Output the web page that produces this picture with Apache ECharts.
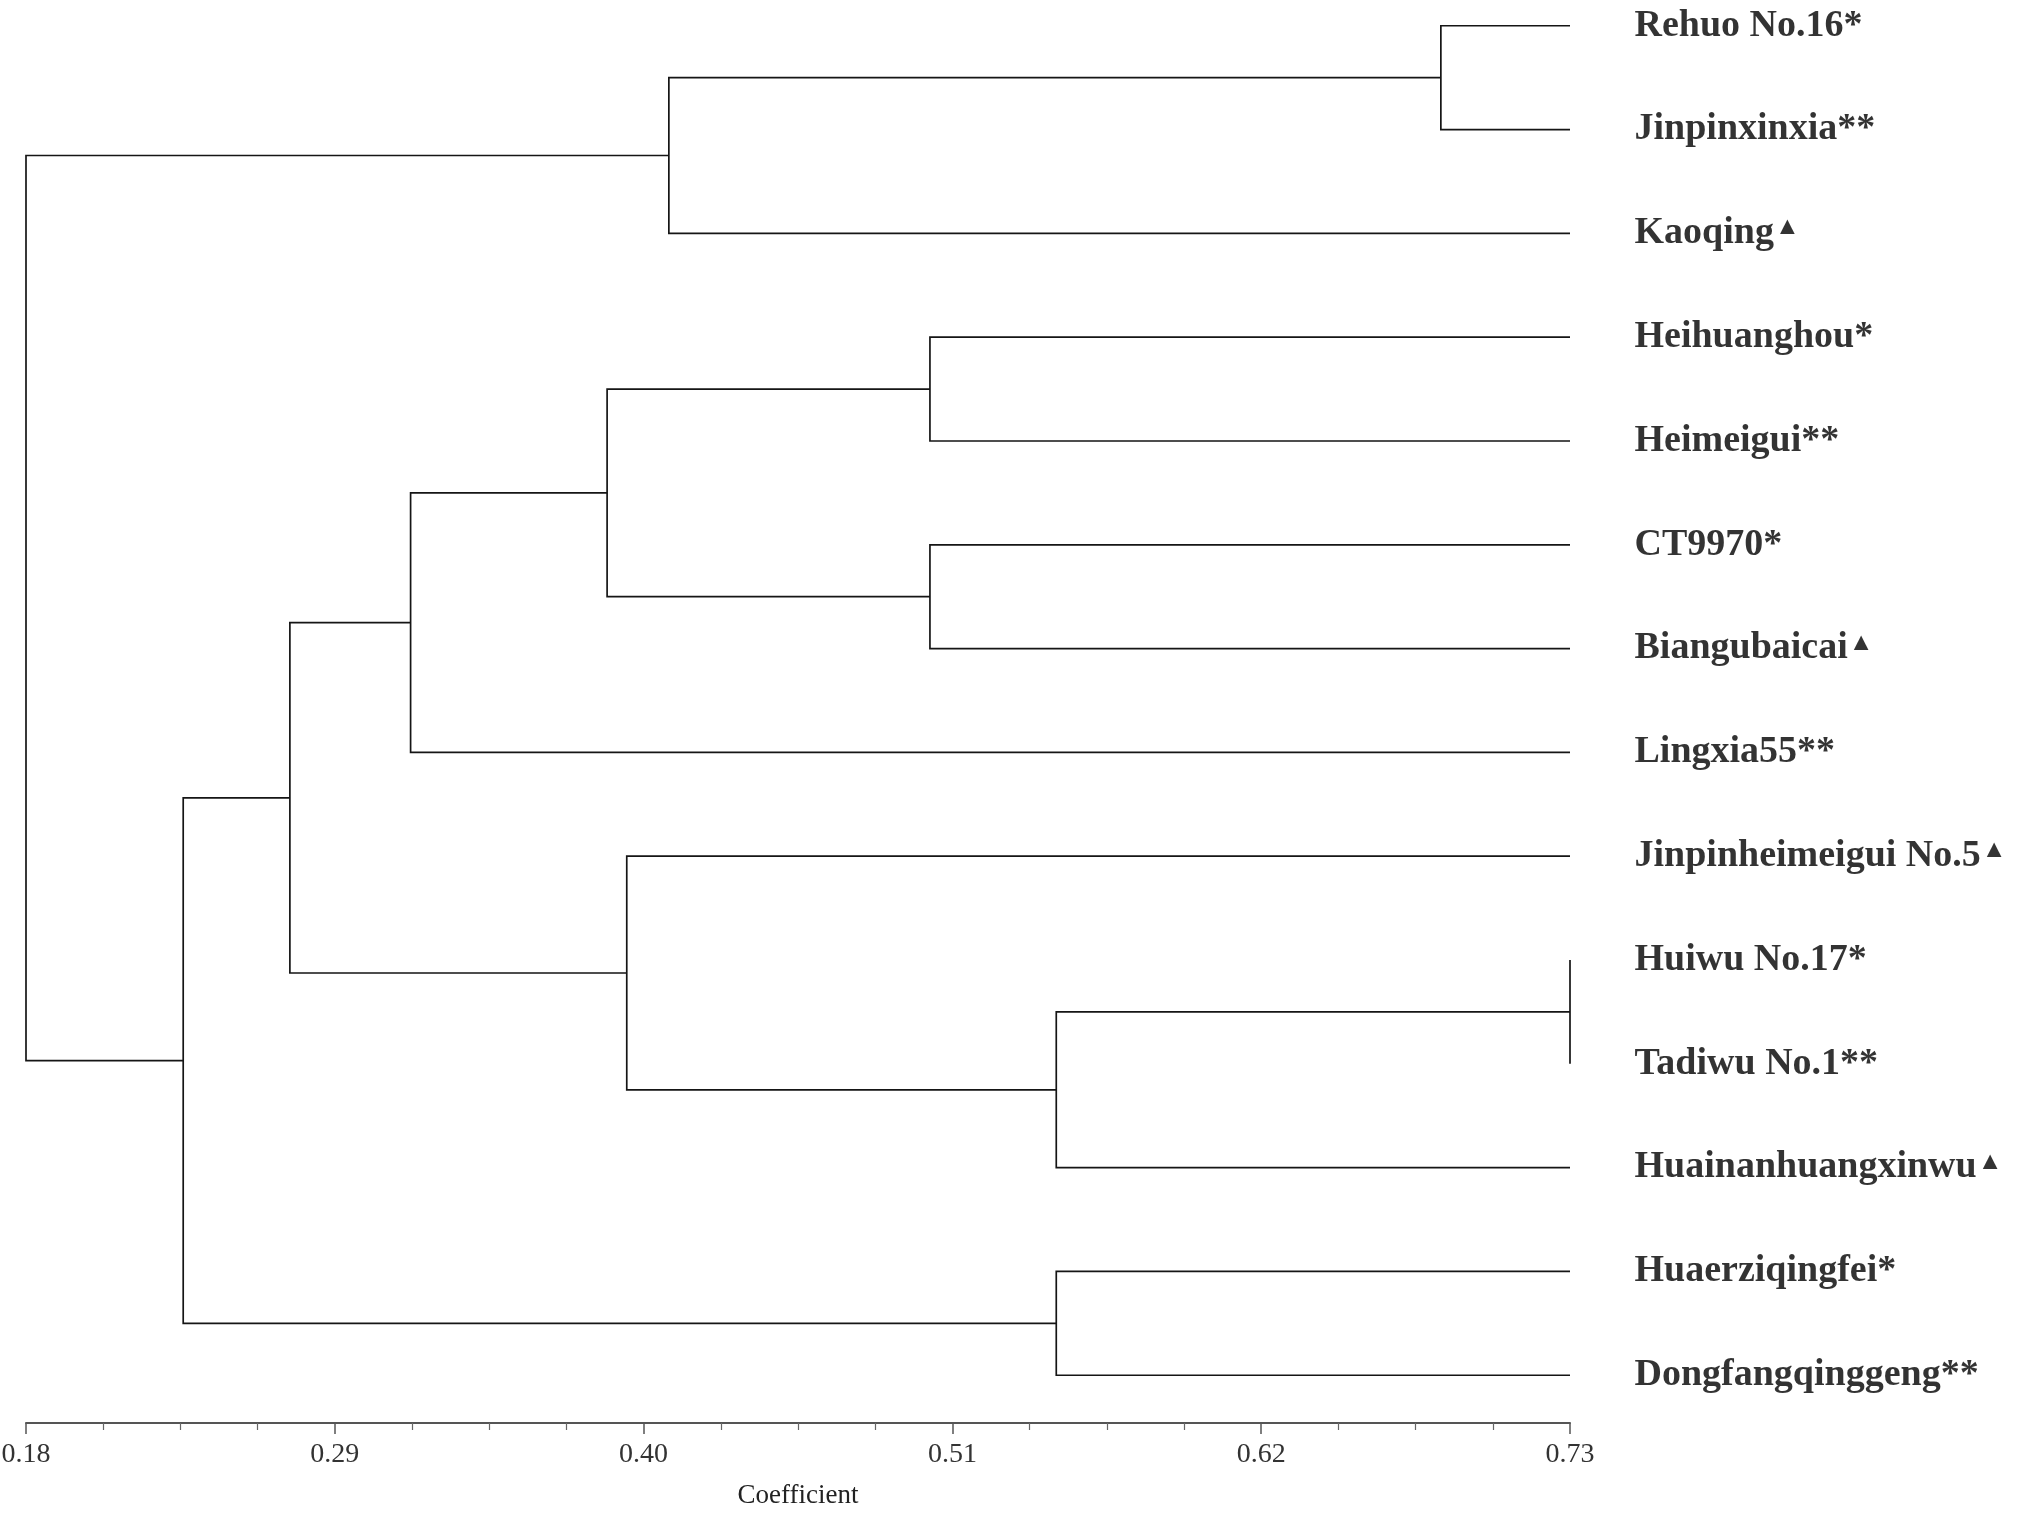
<!DOCTYPE html>
<html>
<head>
<meta charset="utf-8">
<title>Dendrogram</title>
<script src="https://cdn.jsdelivr.net/npm/echarts@6/dist/echarts.min.js"></script>
<style>
  html, body { margin: 0; padding: 0; background: #fff; }
  #main { width: 2022px; height: 1513px; }
</style>
</head>
<body>
<div id="main"></div>
<script>
// leaves, top to bottom
const leaves = [
  'Rehuo No.16*', 'Jinpinxinxia**', 'Kaoqing▲', 'Heihuanghou*', 'Heimeigui**',
  'CT9970*', 'Biangubaicai▲', 'Lingxia55**', 'Jinpinheimeigui No.5▲', 'Huiwu No.17*',
  'Tadiwu No.1**', 'Huainanhuangxinwu▲', 'Huaerziqingfei*', 'Dongfangqinggeng**'
];

// merges: [child a, child b] -> new node index 14, 15, ...
const mergeLeft  = [0, 14, 3, 5, 16, 18, 9, 20, 8, 19, 12, 23, 15];
const mergeRight = [1, 2, 4, 6, 17, 7, 10, 11, 21, 22, 13, 24, 25];
// coefficient where each merge happens
const mergeAt = [0.684, 0.409, 0.502, 0.502, 0.387, 0.317, 0.73, 0.547, 0.394, 0.274, 0.547, 0.236, 0.18];

const axisTicks = [0.18, 0.29, 0.40, 0.51, 0.62, 0.73];

// node positions: leaves sit at the right end, inner nodes at the mean of their children
const nodeX = leaves.map(() => axisTicks[axisTicks.length - 1]);
const nodeY = leaves.map((n, i) => i);
const branches = [];
mergeAt.forEach((h, k) => {
  const a = mergeLeft[k], b = mergeRight[k];
  branches.push({
    coords: [[nodeX[a], nodeY[a]], [h, nodeY[a]], [h, nodeY[b]], [nodeX[b], nodeY[b]]]
  });
  nodeX.push(h);
  nodeY.push((nodeY[a] + nodeY[b]) / 2);
});

let myChart = echarts.init(document.getElementById('main'));

myChart.setOption({
  backgroundColor: '#fff',
  animation: false,
  grid: { left: 26, right: 452, top: 5, bottom: 90, containLabel: false, outerBoundsMode: 'none' },
  xAxis: {
    type: 'value',
    position: 'bottom',
    min: axisTicks[0],
    max: axisTicks[axisTicks.length - 1],
    interval: 0.11,
    name: 'Coefficient',
    nameLocation: 'middle',
    nameGap: 59,
    nameTextStyle: { fontFamily: 'Liberation Serif', fontSize: 27, color: '#222' },
    axisLine: { onZero: false, lineStyle: { color: '#555', width: 2 } },
    axisTick: { length: 11, lineStyle: { color: '#555', width: 1.5 } },
    minorTick: { show: true, splitNumber: 4, length: 7, lineStyle: { color: '#666', width: 1.2 } },
    splitLine: { show: false },
    axisLabel: {
      margin: 18,
      fontFamily: 'Liberation Serif',
      fontSize: 28,
      color: '#333',
      formatter: v => v.toFixed(2)
    }
  },
  yAxis: {
    type: 'value',
    inverse: true,
    min: -0.2,
    max: 13.46,
    show: false
  },
  series: [
    {
      type: 'lines',
      coordinateSystem: 'cartesian2d',
      polyline: true,
      silent: true,
      lineStyle: { color: '#151515', width: 1.7, opacity: 1 },
      data: branches
    },
    {
      type: 'scatter',
      silent: true,
      symbolSize: 1,
      itemStyle: { color: 'rgba(0,0,0,0)' },
      data: leaves.map((n, i) => [nodeX[i], i, n]),
      label: {
        show: true,
        position: 'right',
        distance: 64,
        fontFamily: 'Liberation Serif',
        fontWeight: 'bold',
        fontSize: 38,
        color: '#000',
        formatter: p => p.data[2].replace('▲', '{tri|▲}'),
        rich: {
          tri: { fontSize: 25, color: '#000', verticalAlign: 'top', padding: [1, 0, 0, 1] }
        }
      }
    }
  ]
});
</script>
</body>
</html>
